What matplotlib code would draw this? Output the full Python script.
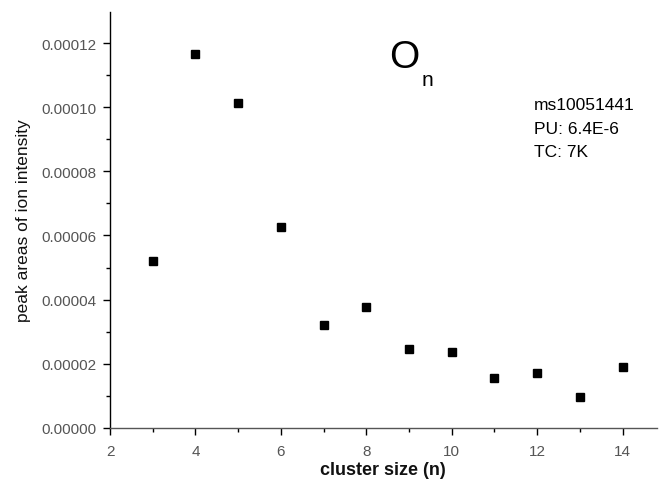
import numpy as np
import matplotlib.pyplot as plt

plt.rcParams['font.family'] = ['Liberation Sans', 'DejaVu Sans']

# cluster size and peak areas
cluster_size = [3, 4, 5, 6, 7, 8, 9, 10, 11, 12, 13, 14]
peak_area = [5.21e-5, 1.166e-4, 1.013e-4, 6.27e-5, 3.21e-5, 3.78e-5,
             2.46e-5, 2.35e-5, 1.54e-5, 1.70e-5, 9.5e-6, 1.89e-5]

x_ticks = [2, 4, 6, 8, 10, 12, 14]
y_ticks = [0.0, 0.00002, 0.00004, 0.00006, 0.00008, 0.00010, 0.00012]
info_lines = ['ms10051441', 'PU: 6.4E-6', 'TC: 7K']

fig = plt.figure(figsize=(6.6, 4.89), dpi=100)
ax = fig.add_axes([0.1667, 0.1233, 0.8283, 0.8497])

ax.plot(cluster_size, peak_area, linestyle='none', marker='s',
        markersize=5.6, color='black')

ax.set_xlim(2, 14.8)
ax.set_ylim(0, 0.0001297)
ax.set_xticks(x_ticks)
ax.set_xticks(np.arange(3, 15, 2), minor=True)
ax.set_yticks(y_ticks)
ax.set_yticks(np.arange(0.00001, 0.00013, 0.00002), minor=True)
ax.set_yticklabels(['%.5f' % v for v in y_ticks])

for s in ['top', 'right']:
    ax.spines[s].set_visible(False)
for s in ['left', 'bottom']:
    ax.spines[s].set_linewidth(1.0)
ax.spines['bottom'].set_color('#555555')

ax.tick_params(which='major', direction='out', length=5, width=1,
               labelsize=11, labelcolor='#555555', pad=5)
ax.tick_params(axis='x', which='major', pad=7)
ax.tick_params(which='minor', direction='out', length=3, width=1)

ax.set_xlabel('cluster size (n)', fontsize=13, fontweight='bold',
              color='#111111', labelpad=2)
ax.set_ylabel('peak areas of ion intensity', fontsize=12.5,
              color='#111111', labelpad=7)

fig.text(404 / 660, 1 - 58 / 489, 'O', fontsize=28, ha='center', va='center')
fig.text(427 / 660, 1 - 81 / 489, 'n', fontsize=15, ha='center', va='center')
for i, line in enumerate(info_lines):
    fig.text(534 / 660, 1 - (105 + 24 * i) / 489, line,
             fontsize=12.5, ha='left', va='center')

fig.savefig('out.png', dpi=100)
